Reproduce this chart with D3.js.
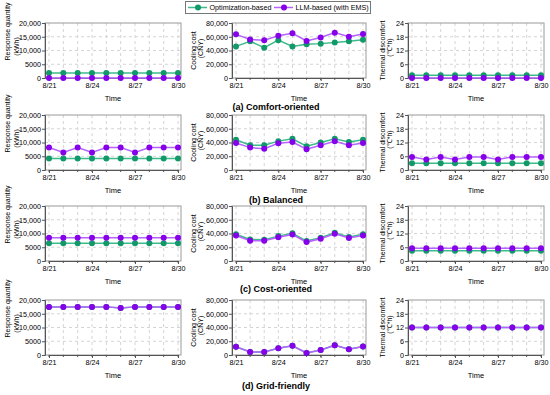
<!DOCTYPE html>
<html>
<head>
<meta charset="utf-8">
<script src="https://cdn.jsdelivr.net/npm/d3@7"></script>
<style>
  body { margin: 0; background: #fff; }
  svg text { font-family: "Liberation Sans", Arial, sans-serif; fill: #000; }
</style>
</head>
<body>
<div id="chart"></div>
<script>
// data
var days = ["8/21","8/22","8/23","8/24","8/25","8/26","8/27","8/28","8/29","8/30"];
var dayTicks = ["8/21","8/24","8/27","8/30"];
var scenarios = ["(a) Comfort-oriented","(b) Balanced","(c) Cost-oriented","(d) Grid-friendly"];
var seriesNames = ["Optimization-based","LLM-based (with EMS)"];

var respTicks = [0,5000,10000,15000,20000];
var costTicks = [0,20000,40000,60000,80000];
var discTicks = [0,6,12,18,24];

// response quantity (kWh)
var respOpt = [
  [1800,1800,1800,1800,1800,1800,1800,1800,1800,1800],
  [4200,4200,4200,4200,4200,4200,4200,4200,4200,4200],
  [6500,6500,6500,6500,6500,6500,6500,6500,6500,6500],
  [17500,17500,17500,17500,17500,17100,17500,17500,17500,17500]
];
var respLLM = [
  [0,0,0,0,0,0,0,0,0,0],
  [8200,6400,8200,6400,8200,8200,6400,8200,8200,8200],
  [8500,8500,8500,8500,8500,8500,8500,8500,8500,8500],
  [17500,17500,17500,17500,17500,17100,17500,17500,17500,17500]
];
// cooling cost (CNY)
var costOpt = [
  [46000,53500,44000,55000,46000,49000,50000,51500,53500,55500],
  [44000,36000,36000,42000,45500,34500,40000,45500,40700,44000],
  [38800,31200,31000,36200,40200,29000,34000,41200,35000,38800],
  [11900,4400,4400,9900,13300,3000,7400,14300,8400,12300]
];
var costLLM = [
  [63500,56000,55000,61500,65000,54000,59000,66000,60000,64000],
  [39300,32600,31000,38800,40700,30200,36000,41700,36000,39300],
  [37000,29500,29500,34500,38500,27500,32500,39500,33500,37000],
  [11900,4400,4400,9900,13300,3000,7400,14300,8400,12300]
];
// thermal discomfort (°C*h)
var discOpt = [
  [1.2,1.2,1.2,1.2,1.2,1.2,1.2,1.2,1.2,1.2],
  [3,3,3,3,3,3,3,3,3,3],
  [4.5,4.5,4.5,4.5,4.5,4.5,4.5,4.5,4.5,4.5],
  [12,12,12,12,12,12,12,12,12,12]
];
var discLLM = [
  [0,0,0,0,0,0,0,0,0,0],
  [5.7,4.6,5.7,4.6,5.7,5.7,4.6,5.7,5.7,5.7],
  [5.6,5.6,5.6,5.6,5.6,5.6,5.6,5.6,5.6,5.6],
  [12,12,12,12,12,12,12,12,12,12]
];

var W = 550, H = 395;
var green = "#12996a", greenLine = "#3dbb8a";
var purple = "#8600ea", purpleLine = "#b463ff";
var fmt = d3.format(",");

// t1off/t2off: vertical shift of the two title lines from the plot centre
var cols = [
  {x0:45, x1:181, ticks:respTicks, opt:respOpt, llm:respLLM, t1:"Response quantity", t2:"(kWh)",
   tx:[9.5,18.5], toff:[-19,-4], f:function(v){ return v==5000 ? "5000" : fmt(v); }},
  {x0:232, x1:366, ticks:costTicks, opt:costOpt, llm:costLLM, t1:"Cooling cost", t2:"(CNY)",
   tx:[195.5,203], toff:[0,-2], f:function(v){ return fmt(v); }},
  {x0:408, x1:544, ticks:discTicks, opt:discOpt, llm:discLLM, t1:"Thermal discomfort", t2:"(\u2103*h)",
   tx:[384.5,392], toff:[0,-3], f:function(v){ return v; }}
];
var rowTops = [23,115,206,300];
var rowH = 55;
var labelY = [110,203,292,389];

var svg = d3.select("#chart").append("svg")
    .attr("width",W).attr("height",H);

rowTops.forEach(function(top,r){
    cols.forEach(function(c){
        var x = d3.scalePoint().domain(days).range([c.x0+4,c.x1-3]);
        var y = d3.scaleLinear().domain([0,c.ticks[c.ticks.length-1]]).range([top+rowH,top]);
        var g = svg.append("g");

        // grid
        g.selectAll(".vg").data(days).enter().append("line")
            .attr("x1",function(d){ return x(d); }).attr("x2",function(d){ return x(d); })
            .attr("y1",top).attr("y2",top+rowH)
            .attr("stroke","#d4d4d4").attr("stroke-dasharray","3,3");
        g.selectAll(".hg").data(c.ticks.slice(1,-1)).enter().append("line")
            .attr("x1",c.x0).attr("x2",c.x1)
            .attr("y1",function(d){ return y(d); }).attr("y2",function(d){ return y(d); })
            .attr("stroke","#d4d4d4").attr("stroke-dasharray","3,3");

        // frame
        g.append("rect").attr("x",c.x0).attr("y",top)
            .attr("width",c.x1-c.x0).attr("height",rowH)
            .attr("fill","none").attr("stroke","#9a9a9a");

        // axes
        var ya = d3.axisLeft(y).tickValues(c.ticks).tickSize(3).tickPadding(1).tickFormat(c.f);
        var yg = g.append("g").attr("transform","translate("+c.x0+",0)").call(ya);
        var xa = d3.axisBottom(x).tickValues(dayTicks).tickSize(3).tickPadding(1.5);
        var xg = g.append("g").attr("transform","translate(0,"+(top+rowH)+")").call(xa);
        [yg,xg].forEach(function(a){
            a.select(".domain").attr("stroke","#555");
            a.selectAll(".tick line").attr("stroke","#555");
            a.selectAll("text").attr("font-size","7.2px").attr("fill","#000")
                .style("font-family","Liberation Sans, Arial, sans-serif");
        });
        // minor x ticks
        g.selectAll(".mt").data(days).enter().append("line")
            .attr("x1",function(d){ return x(d); }).attr("x2",function(d){ return x(d); })
            .attr("y1",top+rowH).attr("y2",top+rowH+2).attr("stroke","#555");

        g.append("text").attr("x",(c.x0+c.x1)/2).attr("y",top+rowH+22.5)
            .attr("text-anchor","middle").attr("font-size","7.5px").text("Time");

        var yc = top+rowH/2;
        g.append("text").attr("transform","translate("+c.tx[0]+","+(yc+c.toff[0])+") rotate(-90)")
            .attr("text-anchor","middle").attr("font-size","7px").text(c.t1);
        g.append("text").attr("transform","translate("+c.tx[1]+","+(yc+c.toff[1])+") rotate(-90)")
            .attr("text-anchor","middle").attr("font-size","7px").text(c.t2);

        // series
        var line = d3.line().x(function(d,i){ return x(days[i]); }).y(function(d){ return y(d); });
        [[c.opt[r],greenLine,green],[c.llm[r],purpleLine,purple]].forEach(function(s){
            g.append("path").datum(s[0]).attr("d",line)
                .attr("fill","none").attr("stroke",s[1]).attr("stroke-width",1.5);
            g.selectAll(null).data(s[0]).enter().append("circle")
                .attr("cx",function(d,i){ return x(days[i]); })
                .attr("cy",function(d){ return y(d); })
                .attr("r",3).attr("fill",s[2]);
        });
    });

    svg.append("text").attr("x",276).attr("y",labelY[r])
        .attr("text-anchor","middle").attr("font-size","9px").attr("font-weight","bold")
        .text(scenarios[r]);
});

// legend
var lg = svg.append("g");
lg.append("rect").attr("x",185.5).attr("y",1.5).attr("width",185).attr("height",12)
    .attr("fill","#fff").attr("stroke","#777");
var items = [
    {x:188, name:seriesNames[0], lc:greenLine, mc:green},
    {x:274, name:seriesNames[1], lc:purpleLine, mc:purple}
];
items.forEach(function(it){
    lg.append("line").attr("x1",it.x).attr("x2",it.x+19).attr("y1",7.5).attr("y2",7.5)
        .attr("stroke",it.lc).attr("stroke-width",1.5);
    lg.append("circle").attr("cx",it.x+10).attr("cy",7.5).attr("r",3).attr("fill",it.mc);
    lg.append("text").attr("x",it.x+21.5).attr("y",10.2).attr("font-size","7.2px").text(it.name);
});
</script>
</body>
</html>
